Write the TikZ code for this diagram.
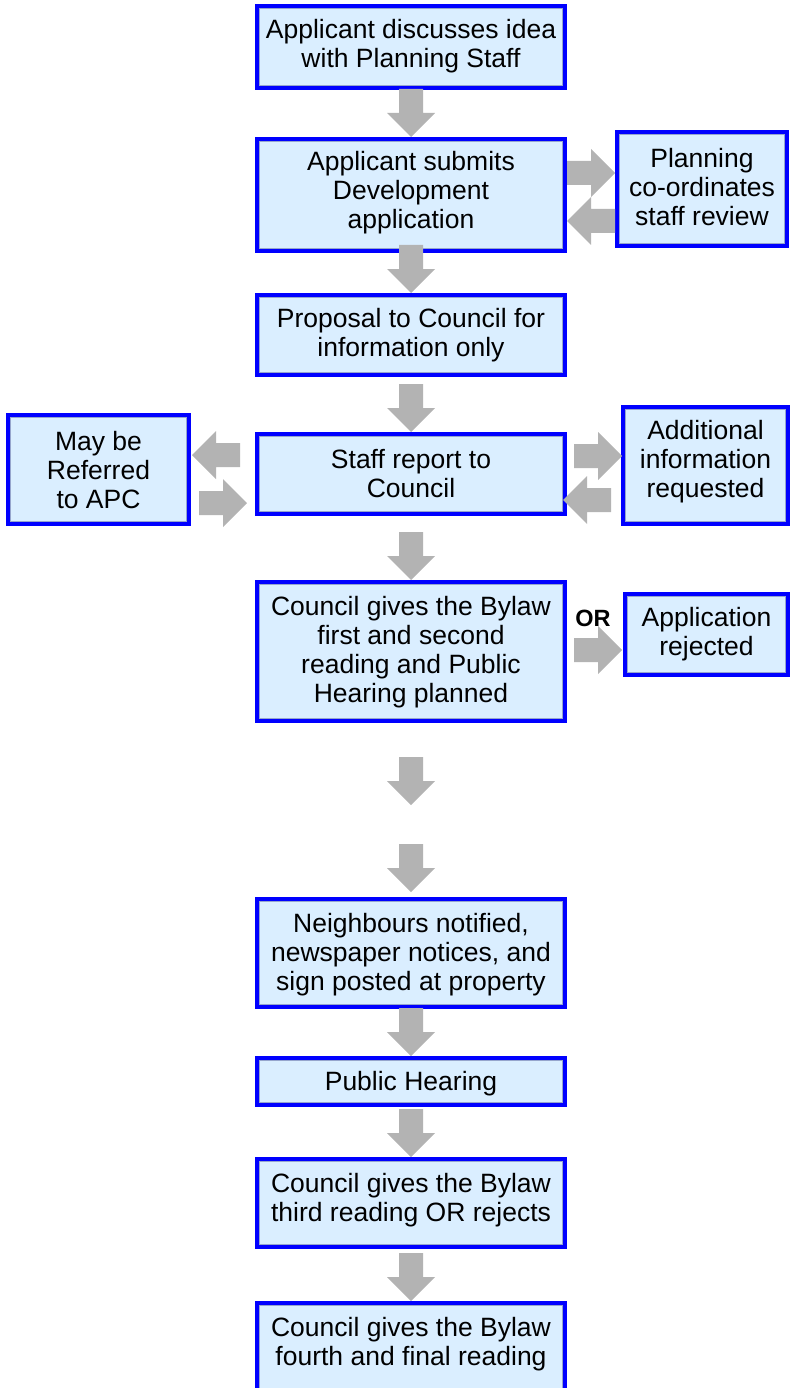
\documentclass[tikz,border=0pt]{standalone}
\usepackage{fontspec}
\setmainfont{Liberation Sans}
\usetikzlibrary{calc}
\definecolor{boxblue}{RGB}{0,0,255}
\definecolor{boxfill}{RGB}{218,238,255}
\definecolor{innerc}{RGB}{150,165,205}
\definecolor{arrgray}{RGB}{179,179,179}
\tikzset{
  darr/.pic={\fill[arrgray] (-12,-48) -- (12,-48) -- (12,-24) -- (24,-24) -- (0,0) -- (-24,-24) -- (-12,-24) -- cycle;},
  rarr/.pic={\fill[arrgray] (-48,-12) -- (-24,-12) -- (-24,-24) -- (0,0) -- (-24,24) -- (-24,12) -- (-48,12) -- cycle;},
  larr/.pic={\fill[arrgray] (48,-12) -- (24,-12) -- (24,-24) -- (0,0) -- (24,24) -- (24,12) -- (48,12) -- cycle;},
}
\newcommand\innerbox[1]{\draw[inline] ([shift={(4.5,4.5)}]#1.north west) rectangle ([shift={(-4.5,-4.5)}]#1.south east);}
\begin{document}
\begin{tikzpicture}[x=1pt,y=-1pt,
  box/.style={draw=boxblue, line width=4pt, fill=boxfill, inner sep=0pt},
  txt/.style={font=\fontsize{26.5}{29}\selectfont, align=center, inner sep=0pt, text=black},
  inline/.style={draw=innerc, line width=0.8pt}]
\useasboundingbox (0,0) rectangle (793,1388);
\clip (0,0) rectangle (793,1388);
% main column boxes
\node[box, minimum width=308, minimum height=82]  (b1) at (411,47) {};
\node[box, minimum width=308, minimum height=112] (b2) at (411,195) {};
\node[box, minimum width=308, minimum height=80]  (b3) at (411,335) {};
\node[box, minimum width=308, minimum height=80]  (b4) at (411,474) {};
\node[box, minimum width=308, minimum height=139] (b5) at (411,651.5) {};
\node[box, minimum width=308, minimum height=108] (b6) at (411,953) {};
\node[box, minimum width=308, minimum height=47]  (b7) at (411,1081.5) {};
\node[box, minimum width=308, minimum height=88]  (b8) at (411,1203) {};
\node[box, minimum width=308, minimum height=97]  (b9) at (411,1351.5) {};
% side boxes
\node[box, minimum width=170, minimum height=114] (r1) at (702,189) {};
\node[box, minimum width=181, minimum height=109] (l1) at (98.5,469.5) {};
\node[box, minimum width=165, minimum height=117] (r2) at (705.5,465.5) {};
\node[box, minimum width=163, minimum height=81]  (r3) at (706.5,634.5) {};
\foreach \b in {b1,b2,b3,b4,b5,b6,b7,b8,b9,r1,l1,r2,r3} {\innerbox{\b}}
% texts
\node[txt] (t1) at (411,46) {Applicant discusses idea\\with Planning Staff};
\node[txt] (t2) at (411,193) {Applicant submits\\Development\\application};
\node[txt] (t3) at (411,335) {Proposal to Council for\\information only};
\node[txt] (t4) at (411,474) {Staff report to\\Council};
\node[txt] (t5) at (411,652) {Council gives the Bylaw\\first and second\\reading and Public\\Hearing planned};
\node[txt] (t6) at (411,955) {Neighbours notified,\\newspaper notices, and\\sign posted at property};
\node[txt] (t7) at (411,1084) {Public Hearing};
\node[txt] (t8) at (411,1200) {Council gives the Bylaw\\third reading OR rejects};
\node[txt] (t9) at (411,1344.5) {Council gives the Bylaw\\fourth and final reading};
\node[txt] (tr1) at (702,187) {Planning\\co-ordinates\\staff review};
\node[txt] (tl1) at (98.5,470) {May be\\Referred\\to APC};
\node[txt] (tr2) at (705.5,462) {Additional\\information\\requested};
\node[txt] (tr3) at (706.5,634) {Application\\rejected};
\node[font=\fontsize{23.5}{26}\selectfont\bfseries, inner sep=0pt] (or) at (593,618) {OR};
% down block arrows
\pic at (b2.north) {darr};
\pic at (b3.north) {darr};
\pic at (b4.north) {darr};
\pic at (b5.north) {darr};
\pic at (411,805) {darr};
\pic at ($(b6.north)+(0,-5)$) {darr};
\pic at (b7.north) {darr};
\pic at (b8.north) {darr};
\pic at (b9.north) {darr};
% side block arrows
\pic at ($(r1.west)+(0,-16)$) {rarr};
\pic at (567,221) {larr};
\pic at (192,455) {larr};
\pic at ($(b4.west)+(-8,29)$) {rarr};
\pic at ($(r2.west)+(1,-9.5)$) {rarr};
\pic at (563,500) {larr};
\pic at ($(r3.west)+(-1,15.5)$) {rarr};
\end{tikzpicture}
\end{document}
